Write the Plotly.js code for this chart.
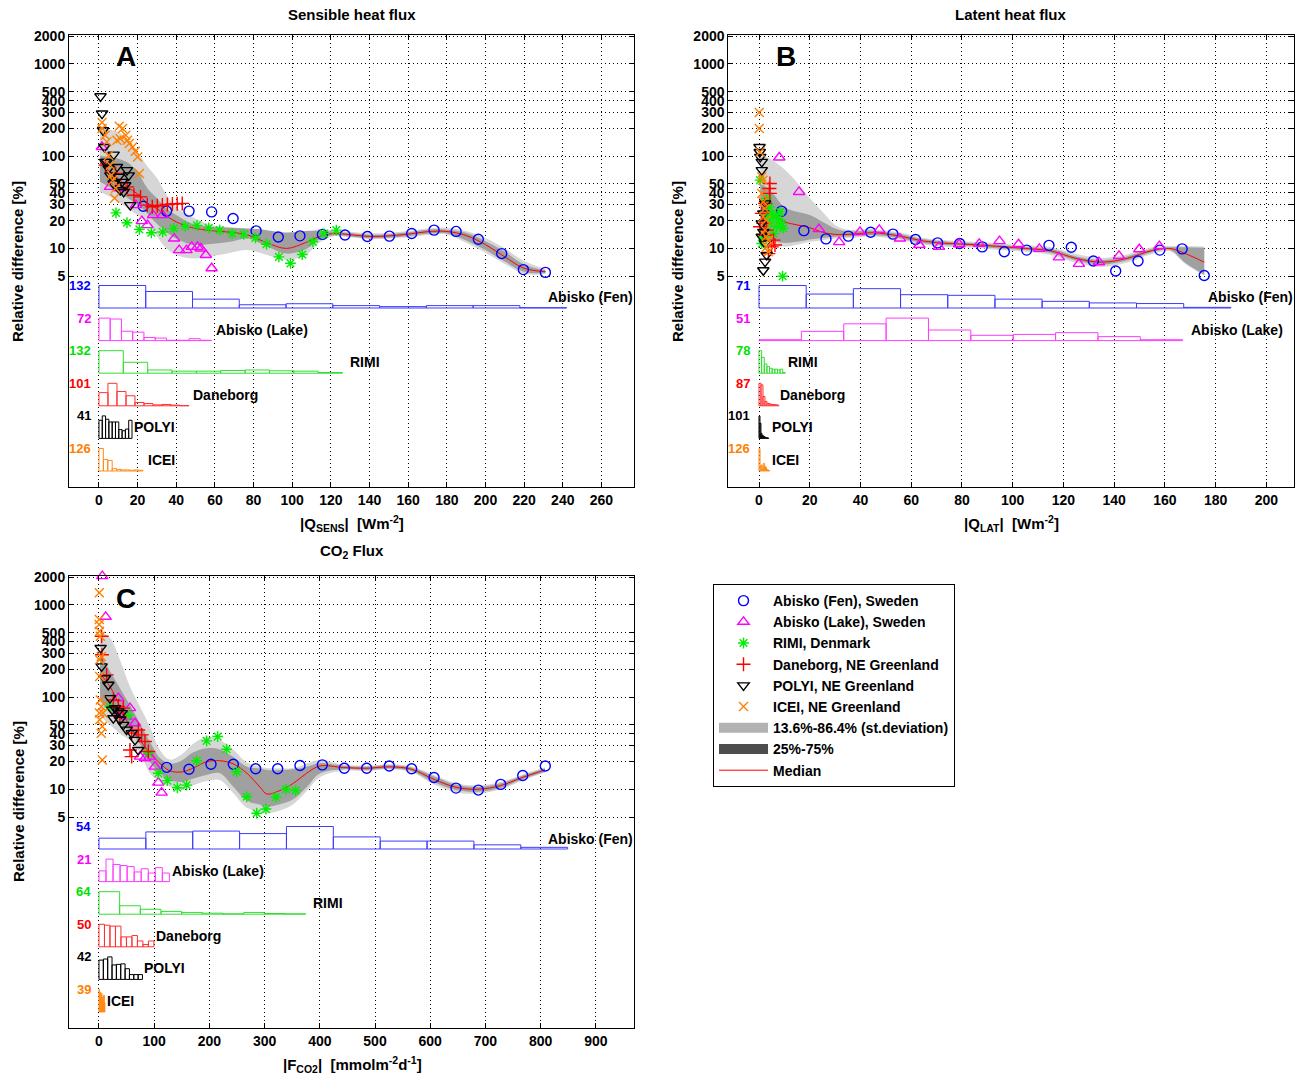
<!DOCTYPE html>
<html><head><meta charset="utf-8">
<script src="https://cdn.plot.ly/plotly-3.0.1.min.js"></script>
<style>body{margin:0;padding:0;background:#fff}#chart{width:1306px;height:1081px}</style>
</head><body><div id="chart"></div>
<script>
// ---------------- DATA ----------------
const Y_TICKS = [5,10,20,30,40,50,100,200,300,400,500,1000,2000];
const A_XTICKS = [0,20,40,60,80,100,120,140,160,180,200,220,240,260];
const B_XTICKS = [0,20,40,60,80,100,120,140,160,180,200];
const C_XTICKS = [0,100,200,300,400,500,600,700,800,900];

// Panel A (sensible heat)
const A_fen_x = [22.9,35,46.6,58.3,69.4,81.3,92.8,104,115.6,127.3,138.9,150.3,161.8,173.4,184.8,196.3,208.4,219.6,231];
const A_fen_y = [28.7,25.4,25.4,24.9,21.1,15.5,13.3,13.7,14.2,14,13.5,13.6,14.5,15.8,15.3,12.6,8.8,5.9,5.5];
const A_lake_x = [1.5,5.7,10.5,19.1,22.2,25.1,28,32.9,38.9,41.5,45.3,48,51,52.7,55.3,58.3];
const A_lake_y = [126,46.5,45,29.5,19.8,17.9,23,23,12.8,9.6,9.6,10.4,10.4,10,8.5,6.1];
const A_rimi_x = [8.8,14.5,20.9,27.1,33,38.7,44.7,50.7,56.8,62.5,68.9,74.9,81,86.7,93.1,99.1,105.2,110.7,116.4,122.8];
const A_rimi_y = [24.3,19,16.1,14.8,15.1,16.5,17.4,17.8,16.7,15.8,14.5,14.2,13,11.1,8.1,6.9,8.6,11.8,14.5,15.8];
const A_dan_x = [3.4,8.6,14.6,18.1,21.5,25,27.6,30.2,32.8,35.4,38,40.5,43.1];
const A_dan_y = [80,65,46.5,37.8,36.2,29.5,28.3,29,29.5,30,30.3,30.5,30.8];
const A_pol_x = [0.8,1.6,2.1,2.8,3.2,4.1,5,5.9,7.6,7.6,9.3,10.2,11,11.9,12.8,13.6,14.5,15.4,16.2];
const A_pol_y = [446,290,191,126,86.8,86.8,73.6,62,104,50.6,76.5,59.7,42.8,52.7,41,48.5,70.6,62,29.5];
const A_ice_x = [1.6,1.6,3.2,4.1,5,5.9,6.4,7.1,8.1,8.6,9.3,10.5,11,12.2,13.9,14.8,15.7,17.4,18.8,20,20.9];
const A_ice_y = [232,200,169,143,102,80,62,55,35,45,149,211,155,200,169,149,137,126,113,98,65];
const A_band_x = [0.5,5,10,15,20,25,30,35,40,48,58,68,77,87,97,107,114,121,130,140,150,160,170,180,190,200,210,220,231];
const A_med = [85,70,57,46,39,31,27,22.5,19.4,16.8,15.6,15,14,11.5,10,11.6,13.5,14.5,14.1,13.5,13.7,14.3,15.2,15.3,13.8,11,8.1,6.1,5.6];
const A_p864 = [200,195,183,150,112,78,58,38,28,22,18,17,16.2,15.1,14.5,15,16.2,15.8,15.2,14.6,14.8,15.5,16.5,16.7,15.5,13,10,7.3,6.0];
const A_p75 = [102,98,94,85,68,45,35,27,23,18.6,17.2,16.8,16.5,15.8,14.9,15.5,15.5,15.3,14.7,14.1,14.3,15,16,16,14.8,12,9.2,6.7,5.8];
const A_p25 = [53,47,41,35,30,24,18.5,15,12.8,11,11.2,11.8,12.8,10.5,8.8,9.8,12.5,13.8,13.5,12.9,13.1,13.6,14.4,14.5,12.2,9.6,7.2,5.6,5.4];
const A_p136 = [41,37,32,27,23,19,13.5,10,8.5,7.8,8.2,9,9.6,8.5,7.5,8.5,11.5,13.5,13.2,12.6,12.8,13.2,14,14.2,11.5,9,6.8,5.3,5.3];
// histograms A (bin width, counts) – order: Fen, Lake, RIMI, Daneborg, POLYI, ICEI
const A_hist_w = [24.2,5.82,12.6,4.66,1.71,2.28];
const A_hist_fen = [132,97,52,19,25,14,8,14,14,2];
const A_hist_lake = [72,69,30,27,10,8,1,1,6,1];
const A_hist_rimi = [132,64,19,12,12,16,19,14,12,4];
const A_hist_dan = [59,101,64,45,15,10,4,6,3,1];
const A_hist_pol = [33,41,35,30,30,30,16,14,17,33];
const A_hist_ice = [126,65,59,13,9,6,6,4,6,4];

// Panel B (latent heat)
const B_fen_x = [8.9,17.7,26.4,35.2,44,52.8,61.7,70.4,79.1,88,96.7,105.5,114.3,123.1,131.8,140.6,149.4,158,166.8,175.5];
const B_fen_y = [25.4,15.6,12.7,13.6,15,14.3,12.5,11.5,11.3,10.4,9.2,9.6,10.8,10.3,7.3,5.7,7.3,9.6,9.9,5.1];
const B_lake_x = [8.0,15.8,23.6,31.6,39.8,47.4,55.6,63.2,70.9,78.9,86.8,94.8,102.3,110.5,118.2,126.1,134,141.9,149.9,157.8];
const B_lake_y = [96.9,41,16.2,11.7,15.1,15.9,12.8,10.9,10.4,11.1,11.2,12,11.1,9.9,8.0,6.8,7.1,8.3,9.8,10.6];
const B_rimi_x = [0.4,1.1,1.7,3,3,4.1,4.4,5,5.7,5.7,7,7.6,8.3,8.9,9.6,9.3];
const B_rimi_y = [55,11.3,13.4,34.8,22,28.2,18.7,24,22,14.5,17.2,21.1,24.9,18.7,16.5,5.0];
const B_dan_x = [0.4,1.1,1.7,2.4,2.4,3,3.7,4.1,4.3,4.3,5,5.7,6.3];
const B_dan_y = [17.2,24,18.7,30.8,14,15.8,8.8,44.7,50.6,39.5,10.4,12.3,10.9];
const B_pol_x = [0.2,0.3,0.5,1.1,1.1,1.1,1.1,1.7,1.7,1.7,2.4,2.4,2.4,3];
const B_pol_y = [126,111,98.4,86.8,70.6,18.7,13.4,24,15.1,5.8,30.8,11.3,7.2,8.5];
const B_ice_x = [0.1,0.1,0.4,1.1,1.1,1.5,1.7,1.7,2.4,2.4,2.8,2.8,3,3.7,3.7];
const B_ice_y = [298,200,111,59.7,39.5,55,32,22,27.1,15.8,20.3,13.4,10.4,12.3,9.2];
const B_band_x = [0.5,3,6,10,15,20,25,30,35,45,55,65,75,85,95,105,115,125,135,145,155,162,168,175.5];
const B_med = [32,27,23,19.5,18,16.8,15,14.2,14.2,14.8,13.7,12,11.3,11,10.5,10,9.4,7.8,7.1,7.8,9.5,10,8.8,7.1];
const B_p864 = [100,98,88,72,52,35,25,18,16,16.2,15,13,12.2,11.8,11.3,10.8,10.3,8.7,7.9,8.6,10.3,10.6,10.6,10.5];
const B_p75 = [50,46,38,28,25,23,19.5,16.5,15.3,15.6,14.4,12.6,11.8,11.4,10.9,10.4,9.9,8.2,7.5,8.2,9.9,10.3,10.3,10.2];
const B_p25 = [12.5,12.3,12,11.5,11.8,12.5,13,13.4,13.5,14,13,11.4,10.8,10.5,10,9.6,8.9,7.4,6.7,7.4,9.1,9.6,7,5.2];
const B_p136 = [11,11,10.8,10.5,11,11.8,12.3,12.8,13,13.5,12.5,11,10.4,10.2,9.6,9.2,8.5,7,6.3,7,8.7,9.3,6.8,5.1];
const B_hist_w = [18.6,16.7,1.04,0.78,0.38,0.42];
const B_hist_fen = [71,44,61,42,40,28,21,16,14,2];
const B_hist_lake = [2,21,38,51,24,12,14,18,9,2];
const B_hist_rimi = [78,55,32,23,17,14,14,11,14,2];
const B_hist_dan = [87,81,36,17,10,8,5,5,4,3];
const B_hist_pol = [101,68,23,15,11,8,5,3,3,2];
const B_hist_ice = [126,28,33,15,43,28,20,9,6,2];

// Panel C (CO2 flux)
const C_fen_x = [122.6,163,202.9,243.4,283.8,323.7,364.1,404.6,444.4,484.9,525.9,566.4,606.9,646.7,687.2,727.7,767.6,808.5];
const C_fen_y = [17.3,16.5,18.7,18.7,16.7,16.7,18.1,18.4,16.9,16.9,17.9,16.7,13.4,10.3,9.8,11.3,14.1,17.9];
const C_lake_x = [6,12.1,35,38,50.1,56.2,65.2,74.3,83.3,92.4,101.4,107.5,113.5];
const C_lake_y = [2050,742,97.5,69.9,61.6,75.9,52,22.6,21.7,22.6,17.6,11.8,9.2];
const C_rimi_x = [19.9,53.1,89.4,107.5,123.8,141.9,158.8,177,195,215,231.2,249.3,267.6,285.7,302.5,320.7,338.8,356.3];
const C_rimi_y = [79,64,24.6,14.9,12.4,10.4,11.1,20.4,33.5,37.3,27.2,15.5,8.3,5.5,6.1,8.2,10,9.7];
const C_dan_x = [4.8,5.4,13.9,26,35,38,44,56.2,59.2,59.2,71.2,77.3,83.3,89.4];
const C_dan_y = [456,288,174,93,79,61.6,75.9,26.7,40.6,22.6,44,38.9,33,25.7];
const C_pol_x = [3,4.8,10.9,16.9,19.9,24,26,29,35,38,41,44,50.1,59.2,65.2,71.2];
const C_pol_y = [341,215,160,136,97.5,73,59,75.9,69.9,56.7,67,50,44.3,40.6,34.3,26.7];
const C_ice_x = [0.6,0.6,0.3,1,2.4,4.2,1,1.2,2.4,4.2,7.2,1.2,6,4.2,6,0.8];
const C_ice_y = [1350,692,612,517,456,276,254,167,93,79,67,56.7,47.9,40.6,20.8,67];
const C_band_x = [2,20,38,56,74,92,110,128,150,170,195,219,243,268,292,304,328,352,376,400,443,485,526,566,607,647,687,728,768,808];
const C_med = [180,130,79,48,34.3,24.6,19.2,15.9,15.4,16.9,19.9,20.4,18.9,14.9,10.5,8.9,9.7,11.6,14.9,17.9,17.2,16.9,17.5,16.5,12.8,10.5,10,11,13.5,16.2];
const C_p864 = [517,437,254,130,79,48,27,21,24,31,37,34,27,19.5,17.5,17,16.9,17,19,20.8,18.5,18,18.7,17.7,14.3,11.6,11,12,14.5,17.3];
const C_p75 = [300,190,125,82,52,33,22,19,20.5,25,27.9,27,22.5,17.6,16.8,16.2,16.2,16.5,17.6,19.2,18,17.6,18.3,17.2,13.8,11.2,10.6,11.6,14.1,16.9];
const C_p25 = [93,67,52,42,31,20,15,12.6,12,13,14.3,14.9,10.7,7.5,6.8,6.5,6.9,7.8,10.5,14.8,16.5,16.2,16.8,15.8,11.9,9.8,9.4,10.4,12.9,15.5];
const C_p136 = [62,50,40,34,25,15,12.2,10.7,9.9,11,12.3,12.6,9.1,6.3,5.7,5.5,5.9,6.9,9.5,13.5,16,15.8,16.5,15.3,11.3,9.3,9,10,12.5,15.2];
const C_hist_w = [84.9,12.75,37.45,9.95,7.88,1.07];
const C_hist_fen = [26,41,43,37,54,29,19,19,10,4];
const C_hist_lake = [10,21,16,15,14,9,12,8,13,8];
const C_hist_rimi = [64,24,14,8,5,3,1,5,2,1];
const C_hist_dan = [50,48,46,46,22,22,25,13,5,13];
const C_hist_pol = [36,38,42,27,28,29,20,9,9,9];
const C_hist_ice = [39,23,34,17,32,11,26,14,29,17];

const SITE_NAMES = ['Abisko (Fen), Sweden','Abisko (Lake), Sweden','RIMI, Denmark','Daneborg, NE Greenland','POLYI, NE Greenland','ICEI, NE Greenland'];
const HIST_NAMES = ['Abisko (Fen)','Abisko (Lake)','RIMI','Daneborg','POLYI','ICEI'];

// ---------------- STYLE / LAYOUT ----------------
const W = 1306, H = 1081;
const FONT = 'Liberation Sans, Arial, Helvetica, sans-serif';
const COLORS = ['#0000ff','#ff00ff','#00ee00','#ff0000','#000000','#ff8000'];
const HCOLORS = ['#3c3cff','#ff3cff','#33dd33','#ff3030','#000000','#ff8c1a'];
const CNTCOL = ['#0000ff','#ff00ff','#00e000','#ff0000','#000000','#ff8000'];
const SYMS = ['circle-open','triangle-up-open','asterisk-open','cross-thin-open','triangle-down-open','x-thin-open'];
const SIZES = [10,10,9,10,10,9];
const LIGHT = '#d6d6d6', DARK = '#a0a0a0';

const panels = [
 {xa:'x', ya:'y', ha:'y2', xd:[69,634.3], yd:[35,487], xr:[-15.5,277], yr:[-1.586,3.314], xt:A_XTICKS,
  sites:[[A_fen_x,A_fen_y],[A_lake_x,A_lake_y],[A_rimi_x,A_rimi_y],[A_dan_x,A_dan_y],[A_pol_x,A_pol_y],[A_ice_x,A_ice_y]],
  band:[A_band_x,A_p136,A_p25,A_med,A_p75,A_p864],
  hw:A_hist_w, hc:[A_hist_fen,A_hist_lake,A_hist_rimi,A_hist_dan,A_hist_pol,A_hist_ice],
  cntX:93, names:[[635,297,'right'],[214,330,'left'],[348,362,'left'],[191,395,'left'],[132,427,'left'],[146,460,'left']]},
 {xa:'x2', ya:'y3', ha:'y4', xd:[728.3,1294.3], yd:[35,487], xr:[-12.1,211], yr:[-1.586,3.314], xt:B_XTICKS,
  sites:[[B_fen_x,B_fen_y],[B_lake_x,B_lake_y],[B_rimi_x,B_rimi_y],[B_dan_x,B_dan_y],[B_pol_x,B_pol_y],[B_ice_x,B_ice_y]],
  band:[B_band_x,B_p136,B_p25,B_med,B_p75,B_p864],
  hw:B_hist_w, hc:[B_hist_fen,B_hist_lake,B_hist_rimi,B_hist_dan,B_hist_pol,B_hist_ice],
  cntX:752, names:[[1295,297,'right'],[1189,330,'left'],[786,362,'left'],[778,395,'left'],[770,427,'left'],[770,460,'left']]},
 {xa:'x3', ya:'y5', ha:'y6', xd:[69,634.3], yd:[576,1028], xr:[-54.3,969.7], yr:[-1.589,3.313], xt:C_XTICKS,
  sites:[[C_fen_x,C_fen_y],[C_lake_x,C_lake_y],[C_rimi_x,C_rimi_y],[C_dan_x,C_dan_y],[C_pol_x,C_pol_y],[C_ice_x,C_ice_y]],
  band:[C_band_x,C_p136,C_p25,C_med,C_p75,C_p864],
  hw:C_hist_w, hc:[C_hist_fen,C_hist_lake,C_hist_rimi,C_hist_dan,C_hist_pol,C_hist_ice],
  cntX:93, names:[[635,839,'right'],[170,871,'left'],[311,903,'left'],[154,936,'left'],[142,968,'left'],[105,1001,'left']]}
];

const HSLOT0 = 16, HSLOT = 32.6, HMAX = 22.5, HRANGE = 452;

const traces = [];
const annotations = [];
const layout = {
  width: W, height: H, margin:{l:0,r:0,t:0,b:0}, paper_bgcolor:'#fff', plot_bgcolor:'rgba(0,0,0,0)',
  barmode:'overlay', showlegend:true, font:{family:FONT, size:14, color:'#000'},
  legend:{x:713/W, y:1-584/H, xanchor:'left', yanchor:'top', bordercolor:'#000', borderwidth:1, bgcolor:'#fff',
          traceorder:'normal', font:{family:FONT, size:14, weight:'bold', color:'#000'}, itemwidth:49, tracegroupgap:0},
  annotations: annotations
};
function ax(n){ return n.length===1 ? n+'axis' : n[0]+'axis'+n.slice(1); }
const tickFont = {family:FONT, size:14, weight:'bold', color:'#000'};

panels.forEach((p, pi) => {
  const common = {showgrid:true, gridcolor:'#000', griddash:'1px,3px', gridwidth:1, zeroline:false,
    showline:true, linecolor:'#000', linewidth:1, mirror:'ticks', ticks:'inside', ticklen:5, tickcolor:'#000',
    tickfont:tickFont, fixedrange:true};
  layout[ax(p.xa)] = Object.assign({}, common, {domain:[p.xd[0]/W, p.xd[1]/W], range:p.xr, anchor:p.ya,
    tickvals:p.xt, ticktext:p.xt.map(String)});
  layout[ax(p.ya)] = Object.assign({}, common, {type:'log', domain:[1-p.yd[1]/H, 1-p.yd[0]/H], range:p.yr, anchor:p.xa,
    tickvals:Y_TICKS, ticktext:Y_TICKS.map(String)});
  layout[ax(p.ha)] = {overlaying:p.ya, anchor:p.xa, range:[0,HRANGE], visible:false, fixedrange:true};

  // bands
  const [bx, p136, p25, med, p75, p864] = p.band;
  const base = {x:bx, xaxis:p.xa, yaxis:p.ya, type:'scatter', mode:'lines', hoverinfo:'skip', showlegend:false};
  traces.push(Object.assign({}, base, {y:p864, line:{width:0, shape:'spline', color:'rgba(0,0,0,0)'}}));
  traces.push(Object.assign({}, base, {y:p136, line:{width:0, shape:'spline', color:'rgba(0,0,0,0)'}, fill:'tonexty', fillcolor:LIGHT}));
  traces.push(Object.assign({}, base, {y:p75, line:{width:0, shape:'spline', color:'rgba(0,0,0,0)'}}));
  traces.push(Object.assign({}, base, {y:p25, line:{width:0, shape:'spline', color:'rgba(0,0,0,0)'}, fill:'tonexty', fillcolor:DARK}));
  traces.push(Object.assign({}, base, {y:med, line:{width:1, shape:'spline', color:'#ff0000'},
    name:'Median', showlegend: pi===0, legendrank:9}));

  // scatter sites
  p.sites.forEach((s, k) => {
    traces.push({type:'scatter', mode:'markers', x:s[0], y:s[1], xaxis:p.xa, yaxis:p.ya, name:SITE_NAMES[k],
      showlegend: pi===0, legendrank:k+1, cliponaxis:false, hoverinfo:'skip',
      marker:{symbol:SYMS[k], size:SIZES[k], color:COLORS[k], line:{color:COLORS[k], width:1.4}}});
  });

  // histograms
  p.hc.forEach((counts, k) => {
    const slot = 5 - k;
    const b0 = HSLOT0 + HSLOT*slot;
    const mx = Math.max(...counts);
    const w = p.hw[k];
    traces.push({type:'bar', xaxis:p.xa, yaxis:p.ha, showlegend:false, hoverinfo:'skip',
      x:counts.map((c,i)=>(i+0.5)*w), y:counts.map(c=>c/mx*HMAX), base:counts.map(()=>b0), width:counts.map(()=>w),
      marker:{color:(k===5 && pi===2) ? HCOLORS[k] : 'rgba(255,255,255,0)', line:{color:HCOLORS[k], width:1}}});
    const topPx = p.yd[1] - b0 - HMAX;
    annotations.push({xref:'paper', yref:'paper', x:p.cntX/W, y:1-topPx/H, xanchor:'right', yanchor:'middle',
      text:String(mx), showarrow:false, font:{family:FONT, size:13, weight:'bold', color:CNTCOL[k]}});
    const nm = p.names[k];
    annotations.push({xref:'paper', yref:'paper', x:nm[0]/W, y:1-nm[1]/H, xanchor:nm[2], yanchor:'middle',
      text:HIST_NAMES[k], showarrow:false, font:{family:FONT, size:14, weight:'bold', color:'#000'}});
  });
});

// legend-only entries for band colours
traces.push({type:'scatter', x:[null], y:[null], xaxis:'x', yaxis:'y', mode:'lines', line:{color:'#b2b2b2', width:14},
  name:'13.6%-86.4% (st.deviation)', legendrank:7, hoverinfo:'skip'});
traces.push({type:'scatter', x:[null], y:[null], xaxis:'x', yaxis:'y', mode:'lines', line:{color:'#4d4d4d', width:14},
  name:'25%-75%', legendrank:8, hoverinfo:'skip'});

// titles
function addText(txt, x, y, size, opts){
  annotations.push(Object.assign({xref:'paper', yref:'paper', x:x/W, y:1-y/H, xanchor:'center', yanchor:'middle',
    text:txt, showarrow:false, font:{family:FONT, size:size, weight:'bold', color:'#000'}}, opts||{}));
}
const NB = '\u00a0';
addText('Sensible heat flux', 351.5, 15, 15);
addText('Latent heat flux', 1011, 15, 15);
addText('CO<sub>2</sub> Flux', 351.5, 551, 15);
addText('A', 126, 57, 28);
addText('B', 786, 57, 28);
addText('C', 126, 598, 28);
addText('|Q<sub>SENS</sub>|'+NB+NB+'[Wm<sup>-2</sup>]', 352, 523, 15);
addText('|Q<sub>LAT</sub>|'+NB+NB+'[Wm<sup>-2</sup>]', 1011, 523, 15);
addText('|F<sub>CO2</sub>|'+NB+NB+'[mmolm<sup>-2</sup>d<sup>-1</sup>]', 352, 1064, 15);
addText('Relative difference [%]', 18, 262, 15, {textangle:-90});
addText('Relative difference [%]', 678, 262, 15, {textangle:-90});
addText('Relative difference [%]', 18, 802, 15, {textangle:-90});

Plotly.newPlot('chart', traces, layout, {staticPlot:true, displayModeBar:false});
</script></body></html>
